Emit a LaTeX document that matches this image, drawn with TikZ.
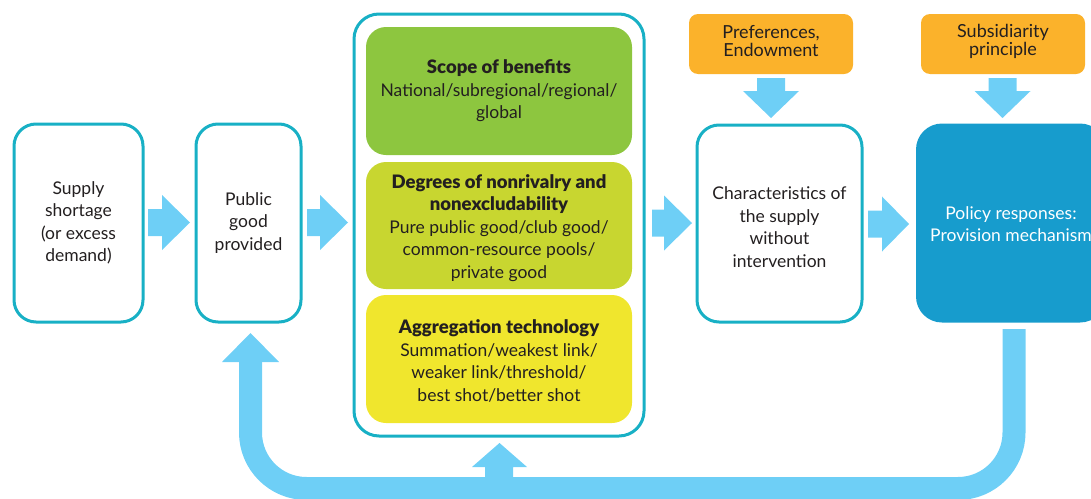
\documentclass[tikz,border=0pt]{standalone}
\usepackage{fontspec}
\setmainfont{Lato}
\newfontfamily\heavyfont{Lato Black}
\definecolor{tealb}{RGB}{24,176,197}
\definecolor{arrowblue}{RGB}{110,207,246}
\definecolor{greenA}{RGB}{141,198,63}
\definecolor{greenB}{RGB}{200,214,48}
\definecolor{yellowC}{RGB}{240,230,45}
\definecolor{orangeD}{RGB}{251,178,43}
\definecolor{policyb}{RGB}{23,156,205}
\definecolor{txt}{RGB}{35,31,32}
\newcommand\hd[1]{{\heavyfont\fontsize{18.5}{22.5}\selectfont #1}}
\newcommand\rblock[4]{\fill[arrowblue] (#1,#4-13.5) -- (#2,#4-13.5) -- (#2,#4-27.5) -- (#3,#4) -- (#2,#4+27.5) -- (#2,#4+13.5) -- (#1,#4+13.5) -- cycle;}
\newcommand\dblock[4]{\fill[arrowblue] (#1-14,#2) -- (#1+14,#2) -- (#1+14,#3) -- (#1+28,#3) -- (#1,#4) -- (#1-28,#3) -- (#1-14,#3) -- cycle;}
\begin{document}
\begin{tikzpicture}[x=1pt,y=-1pt,
  txtfont/.style={font=\fontsize{17.5}{22.5}\selectfont},
  flowbox/.style={draw=tealb, line width=3pt, rounded corners=22pt, fill=white, text=txt, align=center, txtfont},
  inbox/.style={rounded corners=20pt, text=txt, align=center, txtfont, minimum width=266pt, minimum height=128pt},
  otext/.style={text=txt, align=center, font=\fontsize{18}{18}\selectfont},
  obox/.style={fill=orangeD, rounded corners=9pt, minimum width=164pt, minimum height=60pt}]
\useasboundingbox (0,0) rectangle (1091,498);
\clip (0,0) rectangle (1091,498);
% boxes
\node[flowbox, minimum width=129pt, minimum height=198pt] (b1) at (78.5,223) {Supply\\shortage\\(or excess\\demand)};
\node[flowbox, minimum width=105pt, minimum height=198pt] (b2) at (248.5,223) {Public\\good\\provided};
\node[draw=tealb, line width=3pt, rounded corners=25pt, minimum width=290pt, minimum height=422pt] (panel) at (499,225) {};
\node[inbox, fill=greenA] (s1) at (499,91) {\hd{Scope of benefits}\\National/subregional/regional/\\global};
\node[inbox, fill=greenB, minimum height=127pt] (s2) at (499,225.5) {};
\node[text=txt, align=center, txtfont] (s2t) at (499,228) {\hd{Degrees of nonrivalry and}\\\hd{nonexcludability}\\Pure public good/club good/\\common-resource pools/\\private good};
\node[inbox, fill=yellowC] (s3) at (499,359) {};
\node[text=txt, align=center, txtfont] (s3t) at (499,361) {\hd{Aggregation technology}\\Summation/weakest link/\\weaker link/threshold/\\best shot/better shot};
\node[flowbox, minimum width=165pt, minimum height=197pt] (b3) at (779.5,223.5) {};
\node[text=txt, align=center, txtfont] (b3t) at (b3.center) [yshift=-3.5pt] {Characteristics of\\the supply\\without\\intervention};
\node[fill=policyb, rounded corners=26pt, minimum width=190pt, minimum height=199pt] (p) at (1011,223) {};
\node[text=white, align=center, txtfont] (pt) at (1011,224) {Policy responses:\\Provision mechanism};
\node[obox] (o1) at (771,44) {};
\node[otext] (o1t) at (771,41) {Preferences,\\Endowment};
\node[obox] (o2) at (1003,44) {};
\node[otext] (o2t) at (1003,41) {Subsidiarity\\principle};
% block arrows
\rblock{148}{162}{190}{222.5}
\rblock{307}{320}{348}{222.5}
\rblock{652}{664}{692}{223}
\rblock{868}{882}{909}{224}
\dblock{771}{78}{91}{118}
\dblock{1002.5}{78}{91}{118}
% feedback loop
\coordinate (lstart) at (250.5,361);
\coordinate (rend) at (1014,329);
\draw[arrowblue, line width=23pt, rounded corners=56pt] (lstart) -- (250.5,488.5) -- (1014,488.5) -- (rend);
\fill[arrowblue] (222,362) -- (279,362) -- (250.5,333) -- cycle;
\fill[arrowblue] (485,478) -- (485,467) -- (472,467) -- (499.5,443) -- (527,467) -- (513,467) -- (513,478) -- cycle;
\end{tikzpicture}
\end{document}
